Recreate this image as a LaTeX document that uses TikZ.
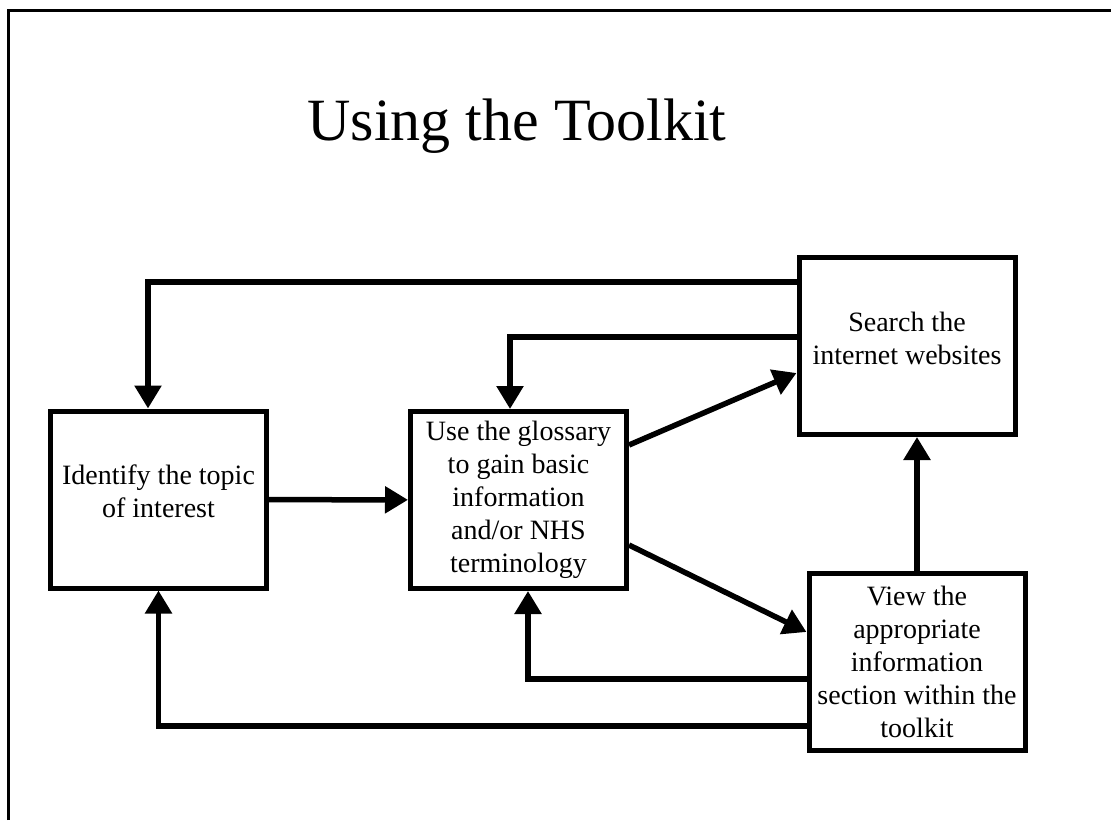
\documentclass[tikz,border=0pt]{standalone}
\usepackage{fontspec}
\setmainfont{Liberation Serif}
\usetikzlibrary{arrows.meta}

\begin{document}
\begin{tikzpicture}[x=1pt, y=-1pt, >={Triangle[length=23pt,width=26pt]},
  stage/.style={draw, line width=5pt, minimum width=216pt, minimum height=177pt, align=center, font=\fontsize{28}{33}\selectfont},
  flow/.style={->, line width=5.5pt}]
  \useasboundingbox (0,0) rectangle (1111,820);
  \draw[line width=3pt] (8.5,820) -- (8.5,10) -- (1111,10);
  \node[font=\fontsize{60}{70}\selectfont, anchor=base] (title) at (517,140) {Using the Toolkit};
  \node[stage] (topic) at (158.5,499.5) {Identify the topic\\of interest\\[-27pt]\strut};
  \node[stage] (gloss) at (518.5,500) {Use the glossary\\to gain basic\\information\\and/or NHS\\terminology};
  \node[stage] (web) at (907,346) {Search the\\internet websites\\[-27pt]\strut};
  \node[stage] (view) at (917,662) {View the\\appropriate\\information\\section within the\\toolkit};
  \draw[flow] (topic) -- (gloss);
  \draw[flow] ([yshift=55pt]gloss.east) -- ([yshift=-27pt]web.west);
  \draw[flow] ([yshift=-45pt]gloss.east) -- ([yshift=30pt]view.west);
  \draw[flow] (view.north) -- (view.north |- web.south);
  \draw[flow] ([yshift=-27pt]web.north west) -| ([xshift=-10.5pt]topic.north);
  \draw[flow] ([yshift=-82pt]web.north west) -| ([xshift=-8.5pt]gloss.north);
  \draw[flow] ([yshift=-17pt]view.west) -| ([xshift=9.5pt]gloss.south);
  \draw[flow] ([yshift=-64pt]view.west) -| (topic.south);
\end{tikzpicture}
\end{document}
